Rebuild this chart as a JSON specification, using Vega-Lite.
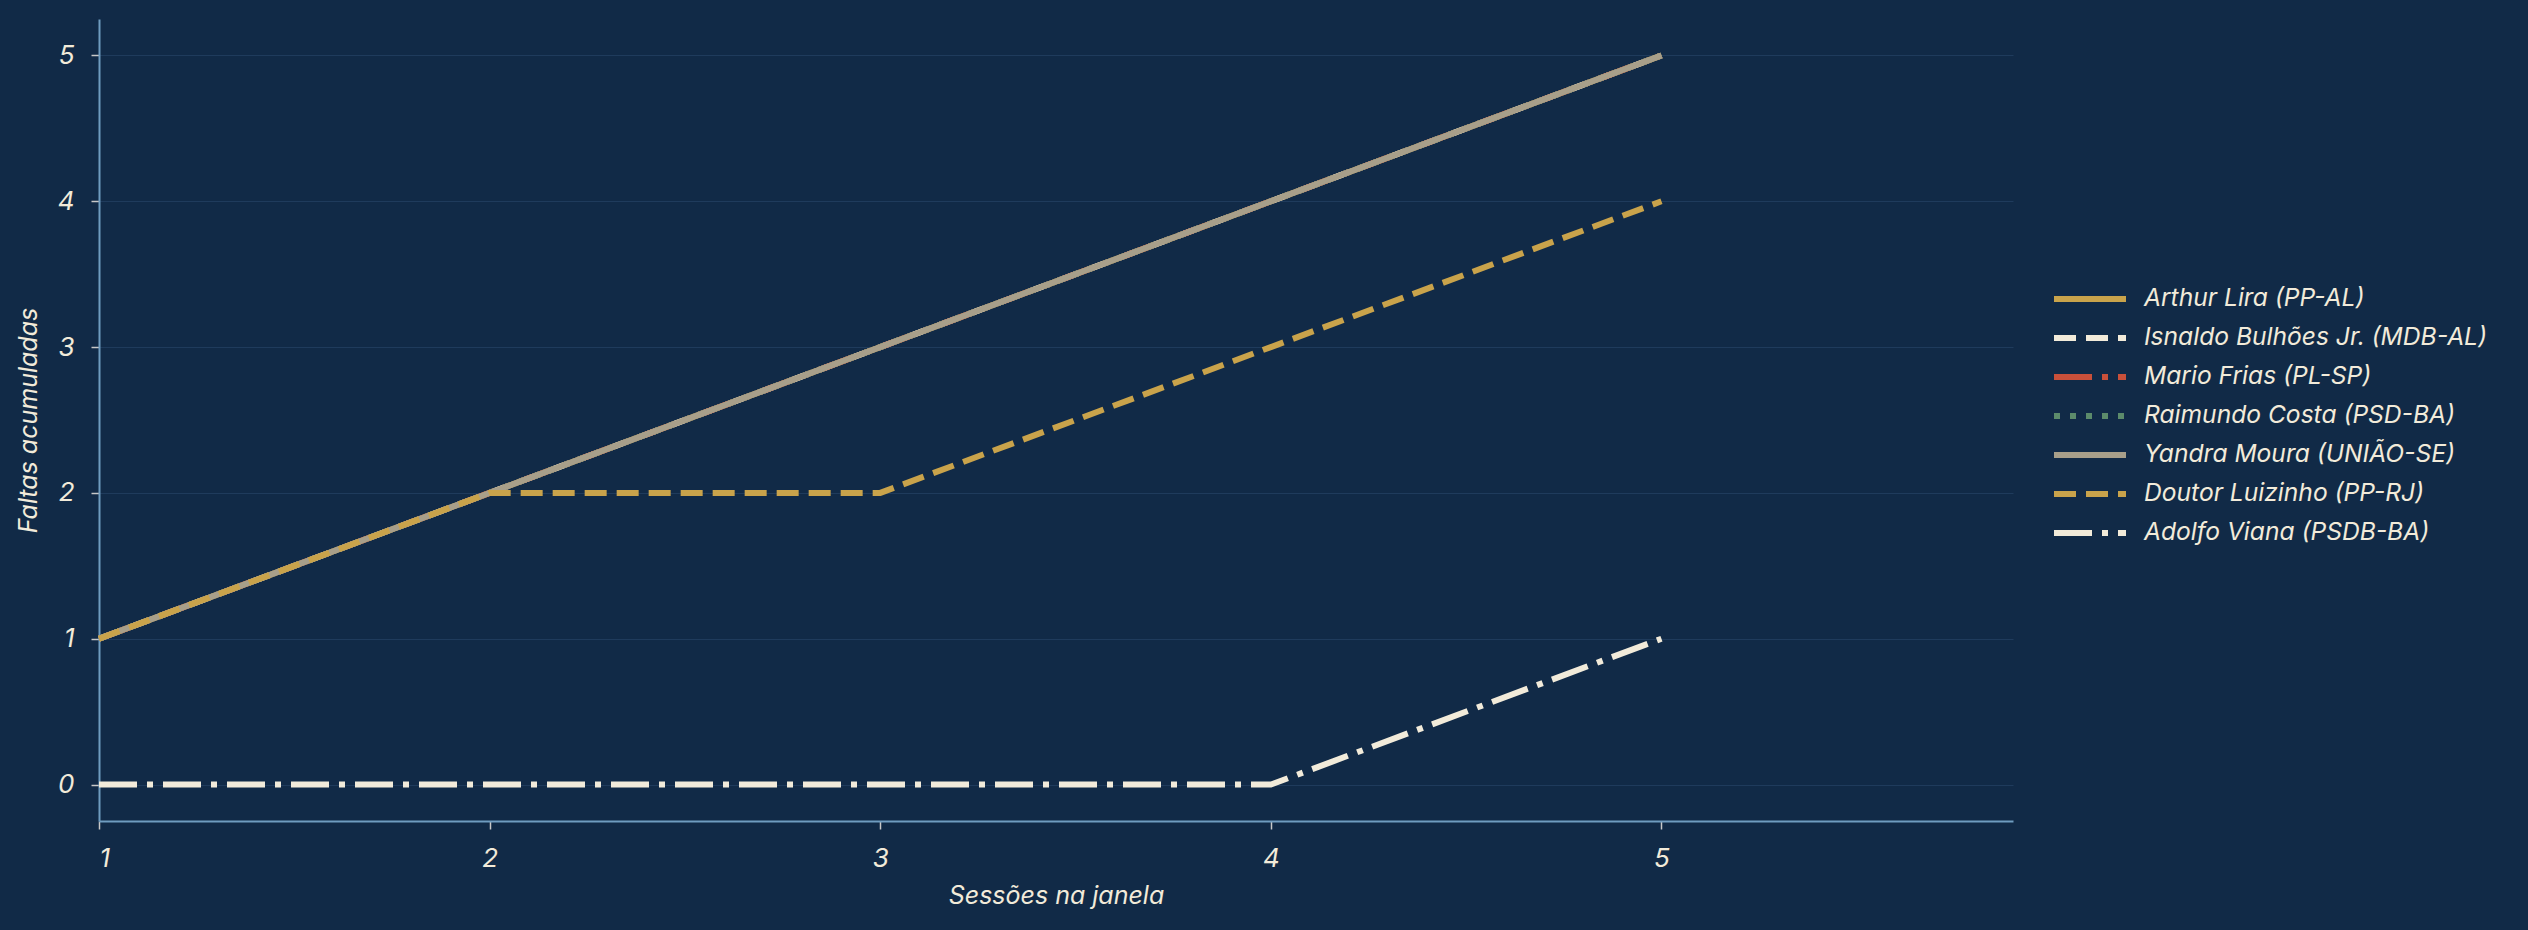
{
  "$schema": "https://vega.github.io/schema/vega-lite/v6.json",
  "width": 1914,
  "height": 802,
  "autosize": {"type": "none"},
  "padding": {"left": 99, "top": 19, "right": 515, "bottom": 109},
  "background": "#112a47",
  "config": {
    "view": {"stroke": null},
    "font": "Inter",
    "axis": {
      "labelFont": "Inter",
      "labelFontStyle": "italic",
      "labelFontSize": 26,
      "labelColor": "#f2ebda",
      "tickColor": "#c8c8c8",
      "tickSize": 8,
      "tickWidth": 1.5,
      "domainColor": "#6f9cc0",
      "domainWidth": 2,
      "titleFont": "Inter",
      "titleFontStyle": "italic",
      "titleFontWeight": "normal",
      "titleFontSize": 25,
      "titleColor": "#f2ebda",
      "gridColor": "#1f3b5c",
      "gridWidth": 1
    },
    "legend": {
      "labelFont": "Inter",
      "labelFontStyle": "italic",
      "labelFontSize": 24.6,
      "labelColor": "#f2ebda",
      "labelLimit": 0,
      "padding": 0
    }
  },
  "data": {
    "values": [
      {"s": 1, "f": 1, "d": "Arthur Lira (PP-AL)"},
      {"s": 2, "f": 2, "d": "Arthur Lira (PP-AL)"},
      {"s": 3, "f": 3, "d": "Arthur Lira (PP-AL)"},
      {"s": 4, "f": 4, "d": "Arthur Lira (PP-AL)"},
      {"s": 5, "f": 5, "d": "Arthur Lira (PP-AL)"},
      {"s": 1, "f": 1, "d": "Isnaldo Bulhões Jr. (MDB-AL)"},
      {"s": 2, "f": 2, "d": "Isnaldo Bulhões Jr. (MDB-AL)"},
      {"s": 3, "f": 3, "d": "Isnaldo Bulhões Jr. (MDB-AL)"},
      {"s": 4, "f": 4, "d": "Isnaldo Bulhões Jr. (MDB-AL)"},
      {"s": 5, "f": 5, "d": "Isnaldo Bulhões Jr. (MDB-AL)"},
      {"s": 1, "f": 1, "d": "Mario Frias (PL-SP)"},
      {"s": 2, "f": 2, "d": "Mario Frias (PL-SP)"},
      {"s": 3, "f": 3, "d": "Mario Frias (PL-SP)"},
      {"s": 4, "f": 4, "d": "Mario Frias (PL-SP)"},
      {"s": 5, "f": 5, "d": "Mario Frias (PL-SP)"},
      {"s": 1, "f": 1, "d": "Raimundo Costa (PSD-BA)"},
      {"s": 2, "f": 2, "d": "Raimundo Costa (PSD-BA)"},
      {"s": 3, "f": 3, "d": "Raimundo Costa (PSD-BA)"},
      {"s": 4, "f": 4, "d": "Raimundo Costa (PSD-BA)"},
      {"s": 5, "f": 5, "d": "Raimundo Costa (PSD-BA)"},
      {"s": 1, "f": 1, "d": "Yandra Moura (UNIÃO-SE)"},
      {"s": 2, "f": 2, "d": "Yandra Moura (UNIÃO-SE)"},
      {"s": 3, "f": 3, "d": "Yandra Moura (UNIÃO-SE)"},
      {"s": 4, "f": 4, "d": "Yandra Moura (UNIÃO-SE)"},
      {"s": 5, "f": 5, "d": "Yandra Moura (UNIÃO-SE)"},
      {"s": 1, "f": 1, "d": "Doutor Luizinho (PP-RJ)"},
      {"s": 2, "f": 2, "d": "Doutor Luizinho (PP-RJ)"},
      {"s": 3, "f": 2, "d": "Doutor Luizinho (PP-RJ)"},
      {"s": 4, "f": 3, "d": "Doutor Luizinho (PP-RJ)"},
      {"s": 5, "f": 4, "d": "Doutor Luizinho (PP-RJ)"},
      {"s": 1, "f": 0, "d": "Adolfo Viana (PSDB-BA)"},
      {"s": 2, "f": 0, "d": "Adolfo Viana (PSDB-BA)"},
      {"s": 3, "f": 0, "d": "Adolfo Viana (PSDB-BA)"},
      {"s": 4, "f": 0, "d": "Adolfo Viana (PSDB-BA)"},
      {"s": 5, "f": 1, "d": "Adolfo Viana (PSDB-BA)"}
    ]
  },
  "mark": {"type": "line", "strokeWidth": 6},
  "encoding": {
    "x": {
      "field": "s",
      "type": "quantitative",
      "title": "Sessões na janela",
      "scale": {"domain": [1, 5.9], "nice": false, "zero": false},
      "axis": {
        "values": [1, 2, 3, 4, 5],
        "grid": false,
        "labelPadding": 16,
        "titleX": 957,
        "titleY": 74,
        "titleBaseline": "middle",
        "titleAlign": "center"
      }
    },
    "y": {
      "field": "f",
      "type": "quantitative",
      "title": "Faltas acumuladas",
      "scale": {"domain": [-0.25, 5.25], "nice": false, "zero": false},
      "axis": {
        "values": [0, 1, 2, 3, 4, 5],
        "grid": true,
        "labelPadding": 17,
        "titleX": -71,
        "titleY": 401,
        "titleAngle": -90,
        "titleBaseline": "middle",
        "titleAlign": "center"
      }
    },
    "color": {
      "field": "d",
      "type": "nominal",
      "sort": null,
      "scale": {
        "domain": ["Arthur Lira (PP-AL)", "Isnaldo Bulhões Jr. (MDB-AL)", "Mario Frias (PL-SP)", "Raimundo Costa (PSD-BA)", "Yandra Moura (UNIÃO-SE)", "Doutor Luizinho (PP-RJ)", "Adolfo Viana (PSDB-BA)"],
        "range": ["#c9a34b", "#f2ebda", "#c9503a", "#5c8b6b", "#a89f8a", "#c9a34b", "#f2ebda"]
      },
      "legend": {
        "title": null,
        "orient": "none",
        "legendX": 1976,
        "legendY": 265,
        "symbolType": "M-3,0H3",
        "symbolSize": 576,
        "symbolStrokeWidth": 6,
        "labelOffset": 39,
        "rowPadding": 12
      }
    },
    "strokeDash": {
      "field": "d",
      "type": "nominal",
      "sort": null,
      "scale": {
        "domain": ["Arthur Lira (PP-AL)", "Isnaldo Bulhões Jr. (MDB-AL)", "Mario Frias (PL-SP)", "Raimundo Costa (PSD-BA)", "Yandra Moura (UNIÃO-SE)", "Doutor Luizinho (PP-RJ)", "Adolfo Viana (PSDB-BA)"],
        "range": [[1, 0], [22, 10], [38, 10, 6, 10], [6, 10], [1, 0], [22, 10], [38, 10, 6, 10]]
      },
      "legend": null
    }
  }
}
